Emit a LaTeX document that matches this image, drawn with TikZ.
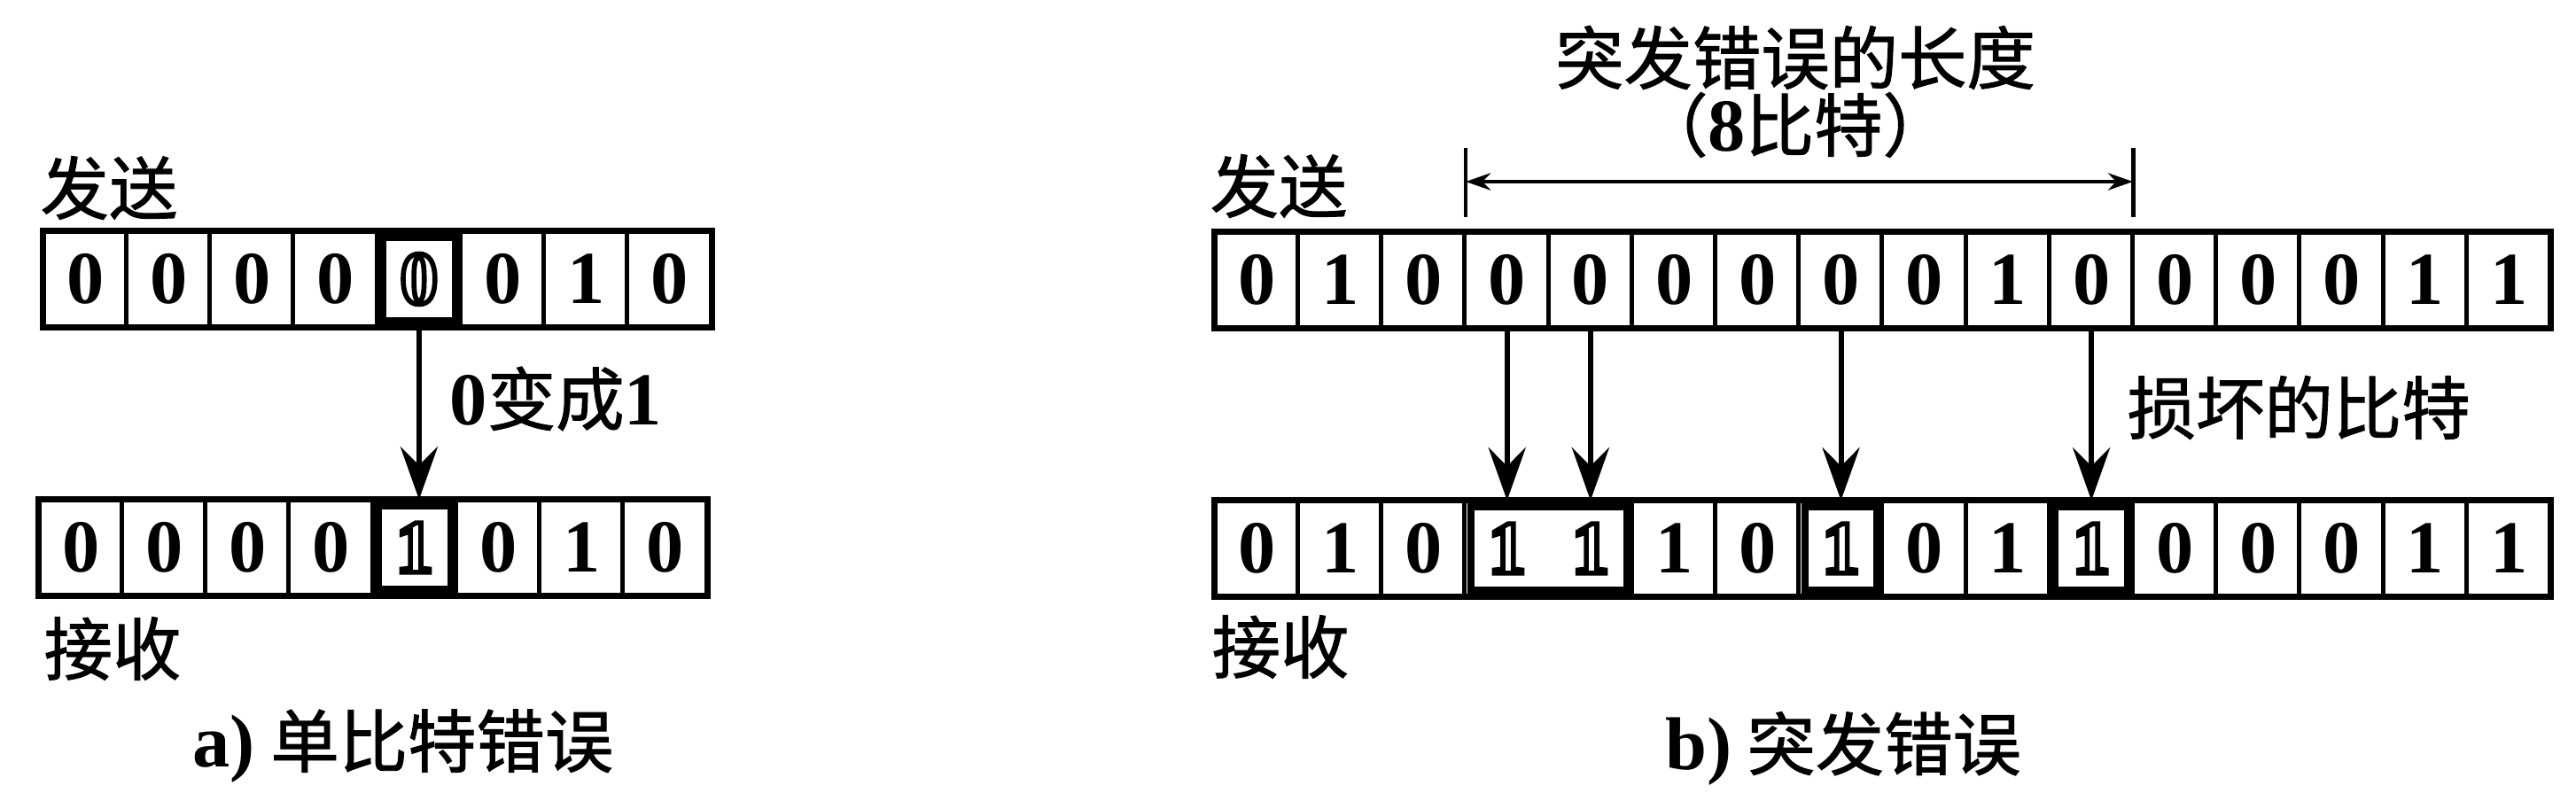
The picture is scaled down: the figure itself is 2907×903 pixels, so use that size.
\documentclass[tikz,border=0pt]{standalone}
\usepackage{fontspec}
\setmainfont{Liberation Serif}
\newfontfamily\cjk{Noto Sans CJK SC}[FakeBold=1.2]
\usetikzlibrary{arrows.meta}

\newcommand{\numfont}{\rmfamily\bfseries\fontsize{24}{24}\selectfont}
\newcommand{\cnfont}{\cjk\fontsize{22}{22}\selectfont}
% outlined digit: stroke only text
\newcommand{\hollowbit}[1]{\special{pdf:literal direct 1 Tr 1.6 w}#1\special{pdf:literal direct 0 Tr}}

\tikzstyle{bit}=[minimum width=0.942cm,minimum height=1.07cm,inner sep=0pt,font=\numfont]
\tikzstyle{cntext}=[inner sep=0pt,font=\cnfont]
\tikzstyle{frame}=[line width=2pt]
\tikzstyle{divider}=[line width=1.4pt]
\tikzstyle{hit}=[line width=2.2pt]
\tikzstyle{flip}=[-{Stealth[length=17pt,width=12pt,inset=6pt]},line width=1.7pt]
\tikzstyle{tick}=[line width=1.4pt]
\tikzstyle{span}=[{Stealth[length=8pt,width=5.5pt]}-{Stealth[length=8pt,width=5.5pt]},line width=1.3pt]

\begin{document}
\begin{tikzpicture}[x=0.01cm,y=-0.01cm]
		\useasboundingbox (0,0) rectangle (2907,903);
		% a) single bit error
		\foreach \v [count=\i from 0] in {0,0,0,0,{\hollowbit{0}},0,1,0}
			\node[bit] (sa\i) at ({49+94.2*(\i+0.5)},315) {\v};
		\foreach \v [count=\i from 0] in {0,0,0,0,{\hollowbit{1}},0,1,0}
			\node[bit] (ra\i) at ({44+94.2*(\i+0.5)},618) {\v};
		\foreach \i in {1,...,7} {
			\draw[divider] (sa\i.north west) -- (sa\i.south west);
			\draw[divider] (ra\i.north west) -- (ra\i.south west);
		}
		\draw[frame] (sa0.north west) rectangle (sa7.south east);
		\draw[frame] (ra0.north west) rectangle (ra7.south east);
		\draw[hit] ([shift={(2pt,-2pt)}]sa4.north west) rectangle ([shift={(-2pt,2pt)}]sa4.south east);
		\draw[hit] ([shift={(2pt,-2pt)}]ra4.north west) rectangle ([shift={(-2pt,2pt)}]ra4.south east);
		\draw[flip] (sa4.south) -- (sa4.south |- ra4.north);
		\node[cntext,anchor=west] (senda) at (45,212) {发送};
		\node[cntext,anchor=west] (recva) at (49,732) {接收};
		\node[cntext,anchor=west] (flipnote) at (507,450) {{\numfont 0}变成{\numfont 1}};
		\node[cntext] (capa) at (455,842) {{\numfont a)} 单比特错误};
		% b) burst error
		\foreach \v [count=\i from 0] in {0,1,0,0,0,0,0,0,0,1,0,0,0,0,1,1}
			\node[bit] (sb\i) at ({1371+94.2*(\i+0.5)},316) {\v};
		\foreach \v [count=\i from 0] in {0,1,0,{\hollowbit{1}},{\hollowbit{1}},1,0,{\hollowbit{1}},0,1,{\hollowbit{1}},0,0,0,1,1}
			\node[bit] (rb\i) at ({1371+94.2*(\i+0.5)},619) {\v};
		\foreach \i in {1,...,15}
			\draw[divider] (sb\i.north west) -- (sb\i.south west);
		\foreach \i in {1,2,3,5,6,...,15}
			\draw[divider] (rb\i.north west) -- (rb\i.south west);
		\draw[frame] (sb0.north west) rectangle (sb15.south east);
		\draw[frame] (rb0.north west) rectangle (rb15.south east);
		\foreach \p/\q in {3/4,7/7,10/10}
			\draw[hit] ([shift={(2pt,-2pt)}]rb\p.north west) rectangle ([shift={(-2pt,2pt)}]rb\q.south east);
		\foreach \i in {3,4,7,10}
			\draw[flip] (sb\i.south) -- (rb\i.north);
		% length of the burst
		\coordinate (spanlt) at (1654,167);
		\coordinate (spanlb) at (1654,245);
		\coordinate (spanrt) at (2407,167);
		\coordinate (spanrb) at (2407,245);
		\coordinate (spanl) at (1654,205);
		\coordinate (spanr) at (2407,205);
		\draw[tick] (spanlt) -- (spanlb);
		\draw[tick] (spanrt) -- (spanrb);
		\draw[span] (spanl) -- (spanr);
		\node[cntext] (spantitle) at (2026,65) {突发错误的长度};
		\node[cntext] (spanbits) at (2026,141) {（{\numfont 8}比特）};
		\node[cntext,anchor=west] (damaged) at (2400,460) {损坏的比特};
		\node[cntext,anchor=west] (sendb) at (1365,210) {发送};
		\node[cntext,anchor=west] (recvb) at (1367,730) {接收};
		\node[cntext] (capb) at (2080,845) {{\numfont b)} 突发错误};
\end{tikzpicture}
\end{document}
